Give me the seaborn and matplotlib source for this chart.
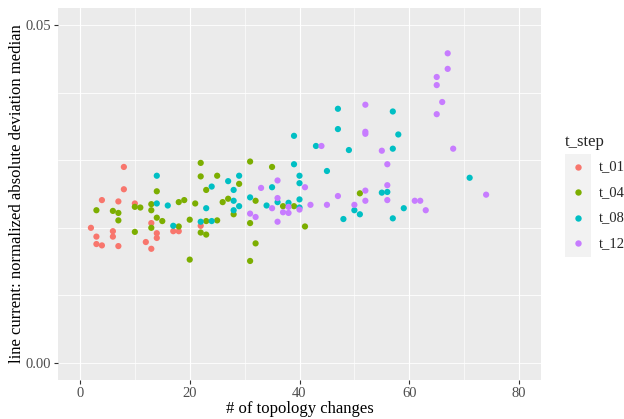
import numpy as np
import pandas as pd
import seaborn as sns
import matplotlib.pyplot as plt
from matplotlib.lines import Line2D
from matplotlib.patches import Rectangle

# topology changes / normalized absolute deviation median
t01_x = [8, 8, 4, 7, 10, 2, 6, 6, 3, 3, 4, 7, 12, 13, 13, 14, 14, 17, 18, 22]
t01_y = [0.0290, 0.0257, 0.0241, 0.0239, 0.0236, 0.0200, 0.0195, 0.0187, 0.0187, 0.0176,
         0.0174, 0.0173, 0.0179, 0.0169, 0.0207, 0.0192, 0.0185, 0.0195, 0.0195, 0.0203]

t04_x = [22, 22, 25, 23, 14, 3, 6, 7, 7, 10, 11, 13, 13, 18, 19, 21, 14, 15, 18, 20,
         23, 25, 13, 10, 22, 23, 20, 31, 35, 29, 27, 26, 32, 28, 31, 37, 39, 41, 51, 32, 31]
t04_y = [0.0296, 0.0276, 0.0277, 0.0256, 0.0254, 0.0226, 0.0225, 0.0222, 0.0211, 0.0231,
         0.0230, 0.0235, 0.0226, 0.0238, 0.0241, 0.0236, 0.0215, 0.0210, 0.0202, 0.0212,
         0.0210, 0.0211, 0.0200, 0.0194, 0.0193, 0.0190, 0.0153, 0.0298, 0.0290, 0.0265,
         0.0243, 0.0238, 0.0240, 0.0220, 0.0207, 0.0232, 0.0232, 0.0202, 0.0251, 0.0177, 0.0151]

t08_x = [14, 14, 16, 24, 23, 17, 22, 24, 43, 49, 39, 45, 29, 27, 28, 35, 40, 40, 31, 28,
         29, 28, 34, 36, 38, 40, 40, 48, 50, 51, 55, 56, 59, 57, 57, 58, 57, 71, 47, 47, 39]
t08_y = [0.0277, 0.0236, 0.0233, 0.0261, 0.0229, 0.0203, 0.0209, 0.0210, 0.0321, 0.0315,
         0.0294, 0.0284, 0.0277, 0.0269, 0.0256, 0.0260, 0.0277, 0.0266, 0.0245, 0.0240,
         0.0232, 0.0226, 0.0233, 0.0238, 0.0237, 0.0230, 0.0242, 0.0213, 0.0226, 0.0220,
         0.0252, 0.0253, 0.0229, 0.0214, 0.0372, 0.0338, 0.0317, 0.0274, 0.0376, 0.0346, 0.0336]

t12_x = [44, 36, 33, 41, 36, 35, 38, 37, 38, 40, 42, 45, 47, 50, 52, 52, 31, 32, 36, 65,
         65, 67, 67, 66, 65, 68, 52, 52, 52, 55, 56, 56, 56, 61, 62, 63, 74]
t12_y = [0.0321, 0.0270, 0.0259, 0.0260, 0.0244, 0.0229, 0.0231, 0.0223, 0.0222, 0.0227,
         0.0234, 0.0234, 0.0247, 0.0234, 0.0255, 0.0240, 0.0221, 0.0216, 0.0209, 0.0423,
         0.0411, 0.0458, 0.0435, 0.0386, 0.0368, 0.0317, 0.0382, 0.0342, 0.0339, 0.0314,
         0.0294, 0.0263, 0.0241, 0.0240, 0.0240, 0.0226, 0.0249]

steps = ["t_01", "t_04", "t_08", "t_12"]
colors = ["#F8766D", "#7CAE00", "#00BFC4", "#C77CFF"]

df = pd.concat([
    pd.DataFrame({"changes": xs, "nadm": ys, "t_step": s})
    for xs, ys, s in zip([t01_x, t04_x, t08_x, t12_x], [t01_y, t04_y, t08_y, t12_y], steps)
], ignore_index=True)

sns.set_theme(style="darkgrid", rc={"axes.facecolor": "#EBEBEB", "grid.color": "white"})
plt.rcParams["font.family"] = ["Liberation Serif", "DejaVu Serif"]

fig = plt.figure(figsize=(6.24, 4.19), dpi=100)
ax = fig.add_axes([58 / 624, 1 - 380 / 419, (541 - 58) / 624, (380 - 8) / 419])

sns.scatterplot(data=df, x="changes", y="nadm", hue="t_step", hue_order=steps,
                palette=colors, s=20, linewidth=0, legend=False, ax=ax, zorder=3)

ax.set_xlim(-4, 84)
ax.set_ylim(-0.0025, 0.0525)
ax.set_xticks([0, 20, 40, 60, 80])
ax.set_xticks([10, 30, 50, 70], minor=True)
ax.set_yticks([0, 0.05])
ax.set_yticks([0.01, 0.02, 0.03, 0.04], minor=True)
ax.set_yticklabels(["0.00", "0.05"])
ax.grid(which="major", axis="x", color="white", linewidth=0.85)
ax.grid(which="minor", axis="x", color="white", linewidth=0.45)
ax.grid(which="both", axis="y", color="white", linewidth=0.6)
ax.tick_params(which="major", length=3, width=0.8, color="#333333", labelcolor="#4D4D4D",
               labelsize=10.5, pad=2, left=True, bottom=True)
ax.tick_params(which="minor", length=0)
for sp in ax.spines.values():
    sp.set_visible(False)

ax.set_xlabel("# of topology changes", fontsize=12, color="black", labelpad=1)
ax.set_ylabel("line current: normalized absolute deviation median", fontsize=12,
              color="black", labelpad=0.5)

# legend, ggplot style
W, H = 624, 419
fig.text(565 / W, 1 - 142 / H, "t_step", fontsize=12, va="center", ha="left")
fig.patches.append(Rectangle((565 / W, 1 - 257 / H), 26 / W, 103 / H,
                             transform=fig.transFigure, facecolor="#F2F2F2",
                             edgecolor="none"))
for i, (s, c) in enumerate(zip(steps, colors)):
    yy = 1 - (167 + i * 25.5) / H
    fig.add_artist(Line2D([578 / W], [yy], marker="o", markersize=4.6, color=c,
                          markeredgewidth=0, linestyle="none", transform=fig.transFigure))
    fig.text(599 / W, yy, s, fontsize=10.5, va="center", ha="left")

fig.savefig("out.png", dpi=100)
